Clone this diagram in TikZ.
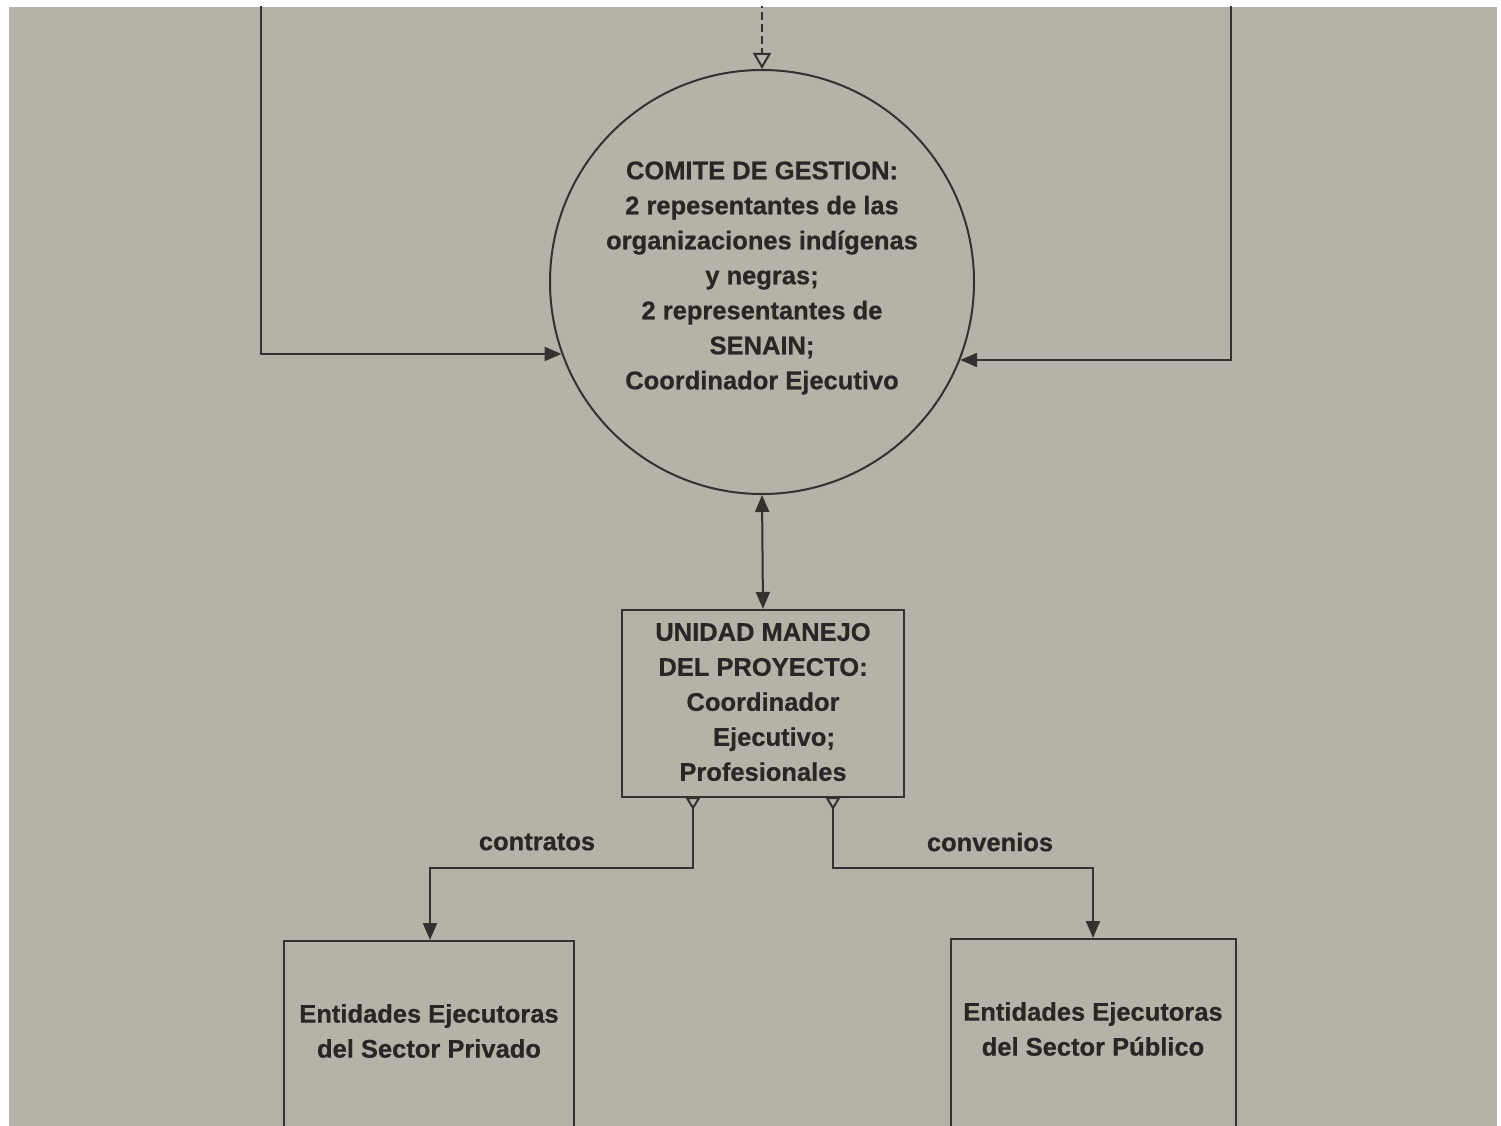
\documentclass[tikz,border=0pt]{standalone}
\usepackage{fontspec}
\setmainfont{Liberation Sans}
\newfontfamily\heavyfont[FakeBold=0.6]{Liberation Sans Bold}
\usetikzlibrary{arrows.meta}
\definecolor{paper}{RGB}{181,178,167}
\definecolor{ink}{RGB}{52,50,48}
\definecolor{txt}{RGB}{40,39,38}
\tikzset{
  line/.style={draw=ink, line width=2pt},
  fillarrow/.style={-{Triangle[length=17pt,width=14pt]}},
  lbl/.style={text=txt, font=\fontsize{25.5}{35}\selectfont\heavyfont, align=center, inner sep=0pt},
  boxnode/.style={draw=ink, line width=2pt, rectangle, inner sep=0pt}
}
\begin{document}
\begin{tikzpicture}[x=1pt,y=-1pt]
\useasboundingbox (0,0) rectangle (1501,1126);
\fill[white] (0,0) rectangle (1501,1126);
\clip (9,7) rectangle (1497,1126);
\fill[paper] (9,7) rectangle (1497,1126);

% circle
\node[draw=ink, line width=2pt, circle, minimum size=424pt, inner sep=0pt] (comite) at (762,282) {};
\node[lbl] (comitetxt) at (762,278) {COMITE DE GESTION:\\2 repesentantes de las\\organizaciones indígenas\\y negras;\\2 representantes de\\SENAIN;\\Coordinador Ejecutivo};

% top dashed
\coordinate (topin) at (762,0);
\draw[line, dashed, dash pattern=on 8pt off 4pt, -{Triangle[open,length=16pt,width=18pt,line width=2pt]}] (topin) -- (comite.north);

% loops
\coordinate (lefttop) at (261,0);
\coordinate (leftcorner) at (261,354);
\coordinate (leftin) at ([shift={(-200.5,72)}]comite.center);
\coordinate (righttop) at (1231,0);
\coordinate (rightcorner) at (1231,360);
\coordinate (rightin) at ([shift={(198.2,78)}]comite.center);
\draw[line, fillarrow] (lefttop) -- (leftcorner) -- (leftin);
\draw[line, fillarrow] (righttop) -- (rightcorner) -- (rightin);

% UMP box
\node[boxnode, minimum width=282pt, minimum height=187pt] (ump) at (763,703.5) {};
\node[lbl] (umptxt) at (763,702) {UNIDAD MANEJO\\DEL PROYECTO:\\Coordinador\\\hspace*{22pt}Ejecutivo;\\Profesionales};

\draw[line, {Triangle[length=17pt,width=14pt]}-{Triangle[length=17pt,width=14pt]}] (comite.south) -- (ump.north);

% bottom boxes
\node[boxnode, minimum width=290pt, minimum height=240pt, anchor=north] (priv) at (429,940) {};
\node[lbl] (privtxt) at (429,1031) {Entidades Ejecutoras\\del Sector Privado};
\node[boxnode, minimum width=285pt, minimum height=240pt, anchor=north] (pub) at (1093.5,938) {};
\node[lbl] (pubtxt) at (1093,1029) {Entidades Ejecutoras\\del Sector Público};

% connectors
\coordinate (lstart) at (693,797);
\coordinate (lmid1) at (693,868);
\coordinate (lmid2) at (430,868);
\coordinate (rstart) at (833,797);
\coordinate (rmid1) at (833,868);
\coordinate (rmid2) at (1093,868);
\draw[line, {Triangle[open,reversed,length=13pt,width=15pt,line width=2pt]}-{Triangle[length=17pt,width=14pt]}] (lstart) -- (lmid1) -- (lmid2) -- (lmid2 |- priv.north);
\draw[line, {Triangle[open,reversed,length=13pt,width=15pt,line width=2pt]}-{Triangle[length=17pt,width=14pt]}] (rstart) -- (rmid1) -- (rmid2) -- (rmid2 |- pub.north);

\node[lbl] (contratos) at (537,842) {contratos};
\node[lbl] (convenios) at (990,842) {convenios};
\end{tikzpicture}
\end{document}
